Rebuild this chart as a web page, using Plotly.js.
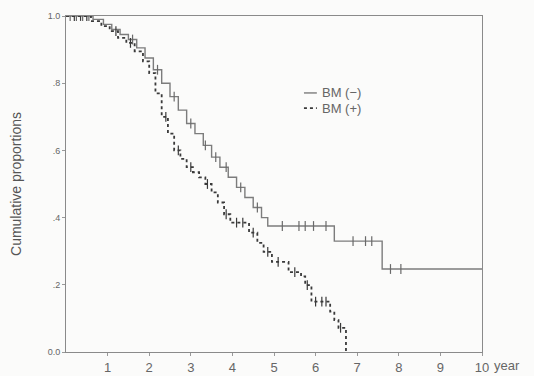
<!DOCTYPE html>
<html><head><meta charset="utf-8">
<script src="https://cdn.plot.ly/plotly-3.0.1.min.js"></script>
<style>html,body{margin:0;padding:0;background:#fbfbfa;}</style>
</head><body><div id="chart" style="width:534px;height:376px;"></div>
<script>
// BM (-) : Kaplan-Meier step values
const negTimes = [0, 0.65, 0.9, 1.1, 1.3, 1.5, 1.7, 1.9, 2.1, 2.3, 2.5, 2.7, 2.9, 3.1, 3.3, 3.5, 3.7, 3.9, 4.1, 4.3, 4.5, 4.7, 4.85, 6.45, 7.6, 10];
const negSurv  = [1.0, 0.99, 0.975, 0.96, 0.945, 0.93, 0.905, 0.875, 0.84, 0.80, 0.76, 0.72, 0.68, 0.65, 0.615, 0.58, 0.55, 0.52, 0.49, 0.46, 0.43, 0.40, 0.375, 0.33, 0.247, 0.247];
const negCensor = [0.1, 0.25, 0.4, 0.55, 1.6, 2.2, 2.6, 3.0, 3.35, 3.6, 3.85, 4.2, 4.6, 5.2, 5.6, 5.75, 5.95, 6.25, 6.9, 7.2, 7.35, 7.8, 8.05];
// BM (+)
const posTimes = [0, 0.6, 0.85, 1.05, 1.25, 1.45, 1.65, 1.85, 2.0, 2.15, 2.3, 2.45, 2.6, 2.75, 2.9, 3.05, 3.2, 3.35, 3.5, 3.65, 3.8, 3.95, 4.4, 4.6, 4.75, 4.95, 5.35, 5.65, 5.75, 5.9, 6.35, 6.45, 6.55, 6.73];
const posSurv  = [1.0, 0.985, 0.97, 0.955, 0.935, 0.92, 0.895, 0.865, 0.83, 0.77, 0.70, 0.65, 0.60, 0.575, 0.55, 0.535, 0.52, 0.50, 0.475, 0.445, 0.41, 0.385, 0.355, 0.325, 0.298, 0.268, 0.238, 0.225, 0.199, 0.15, 0.12, 0.095, 0.072, 0];
const posCensor = [0.2, 0.35, 0.5, 1.2, 1.55, 2.4, 2.7, 3.0, 3.4, 3.85, 4.1, 4.25, 4.5, 4.85, 5.1, 5.5, 5.8, 6.0, 6.15, 6.25, 6.6];
const seriesNames = ['BM (−)', 'BM (+)'];
const yTickVals = [0, 0.2, 0.4, 0.6, 0.8, 1.0];
const yTickText = ['0.0', '.2', '.4', '.6', '.8', '1.0'];
const xTickVals = [1, 2, 3, 4, 5, 6, 7, 8, 9, 10];

function stepAt(times, surv, t) {
  let v = surv[0];
  for (let i = 0; i < times.length; i++) { if (times[i] <= t) v = surv[i]; }
  return v;
}

const negColor = '#7c7c7c', posColor = '#3a3a3a';
const traces = [
  {x: negTimes, y: negSurv, mode: 'lines', line: {shape: 'hv', color: negColor, width: 1.4}, name: seriesNames[0], showlegend: false},
  {x: posTimes, y: posSurv, mode: 'lines', line: {shape: 'hv', color: posColor, width: 1.8, dash: 'dot'}, name: seriesNames[1], showlegend: false},
  {x: negCensor, y: negCensor.map(t => stepAt(negTimes, negSurv, t)), mode: 'markers', showlegend: false,
   marker: {symbol: 'line-ns-open', size: 7, color: '#6a6a6a', line: {color: '#6a6a6a', width: 1.2}}},
  {x: posCensor, y: posCensor.map(t => stepAt(posTimes, posSurv, t)), mode: 'markers', showlegend: false,
   marker: {symbol: 'line-ns-open', size: 7, color: posColor, line: {color: posColor, width: 1.2}}}
];

const layout = {
  width: 534, height: 376,
  margin: {l: 66, r: 52, t: 16, b: 24},
  paper_bgcolor: '#fbfbfa', plot_bgcolor: '#fbfbfa',
  font: {family: 'Liberation Sans, Arial, sans-serif', color: '#555'},
  showlegend: false,
  xaxis: {range: [0, 10], tickvals: xTickVals, ticks: 'outside', ticklen: 3, tickcolor: '#999',
          showline: true, linecolor: '#8a8a8a', linewidth: 1, mirror: true, showgrid: false, zeroline: false,
          tickfont: {size: 13, color: '#666'}},
  yaxis: {range: [0, 1.0], tickvals: yTickVals, ticktext: yTickText, ticks: 'outside', ticklen: 3, tickcolor: '#999',
          showline: true, linecolor: '#8a8a8a', linewidth: 1, mirror: true, showgrid: false, zeroline: false,
          tickfont: {size: 9, color: '#666'},
          title: {text: 'Cumulative proportions', font: {size: 14, color: '#555'}, standoff: 22}},
  shapes: [
    {type: 'line', xref: 'paper', yref: 'paper', x0: 0.572, x1: 0.603, y0: 0.771, y1: 0.771, line: {color: negColor, width: 1.4}},
    {type: 'line', xref: 'paper', yref: 'paper', x0: 0.572, x1: 0.603, y0: 0.726, y1: 0.726, line: {color: posColor, width: 1.8, dash: 'dot'}}
  ],
  annotations: [
    {text: 'year', xref: 'paper', yref: 'paper', x: 1, y: 0, xanchor: 'left', yanchor: 'top',
     xshift: 10, yshift: -4, showarrow: false, font: {size: 13, color: '#666'}},
    {text: seriesNames[0], xref: 'paper', yref: 'paper', x: 0.611, y: 0.771, xanchor: 'left', yanchor: 'middle',
     showarrow: false, font: {size: 13, color: '#666'}},
    {text: seriesNames[1], xref: 'paper', yref: 'paper', x: 0.611, y: 0.726, xanchor: 'left', yanchor: 'middle',
     showarrow: false, font: {size: 13, color: '#666'}}
  ]
};

Plotly.newPlot('chart', traces, layout, {displayModeBar: false, staticPlot: true});
</script>
</body></html>
